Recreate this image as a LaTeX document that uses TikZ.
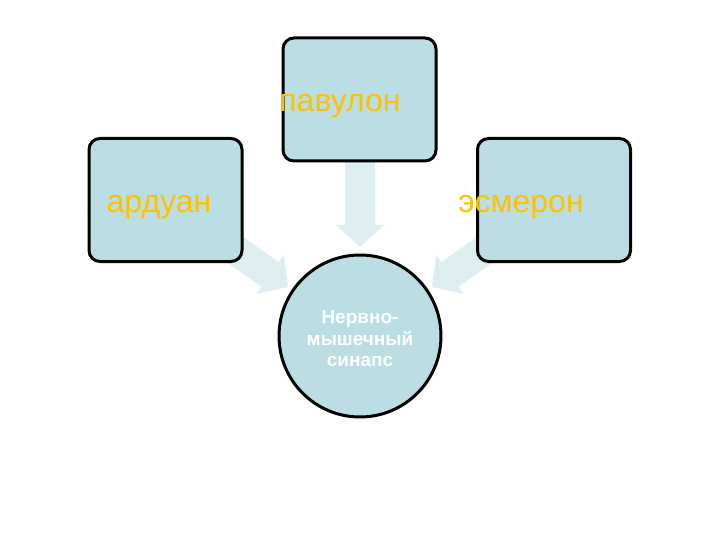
\documentclass[tikz,border=0pt]{standalone}
\usepackage{fontspec}
\setmainfont{Liberation Sans}
\usetikzlibrary{calc}
\definecolor{boxfill}{HTML}{BADEE3}
\definecolor{arrowfill}{HTML}{DCEEF0}
\definecolor{gold}{HTML}{FFC000}
\tikzset{
  box/.style={draw=black, line width=3pt, fill=boxfill, rounded corners=11pt, minimum width=153pt, minimum height=123pt, inner sep=0pt},
  hub/.style={draw=black, line width=3pt, fill=boxfill, circle, minimum size=162pt, inner sep=0pt},
  boxtext/.style={text=gold, font=\fontsize{32}{36}\selectfont, anchor=base, inner sep=0pt},
  hubtext/.style={text=white, font=\bfseries\fontsize{19}{21.5}\selectfont, align=center, inner sep=0pt},
  blockarrow/.style={fill=arrowfill, draw=none}
}
\newcommand{\blockarr}[2]{%
  \coordinate (hb) at ($(#2)!22pt!(#1)$);
  \path[blockarrow] ($(#1)!15pt!90:(#2)$) -- ($(hb)!15pt!-90:(#1)$) -- ($(hb)!24pt!-90:(#1)$) -- (#2)
    -- ($(hb)!24pt!90:(#1)$) -- ($(hb)!15pt!90:(#1)$) -- ($(#1)!15pt!-90:(#2)$) -- cycle;
}
\begin{document}
\begin{tikzpicture}[x=1pt,y=-1pt]
\useasboundingbox (0,0) rectangle (720,540);
\fill[white] (0,0) rectangle (720,540);
% arrow ends
\coordinate (ta) at (360,150);
\coordinate (tb) at (360,247);
\coordinate (la) at (200,225);
\coordinate (lb) at (288,287);
\coordinate (ra) at (520,225);
\coordinate (rb) at (432,287);
\blockarr{ta}{tb}
\blockarr{la}{lb}
\blockarr{ra}{rb}
% boxes
\node[box] (top) at (359.5,99.5) {};
\node[box] (left) at (165.5,200) {};
\node[box] (right) at (554,200) {};
\node[hub] (hub) at (360,336) {};
% labels
\node[boxtext] (ttop) at (340,112) {павулон};
\node[boxtext] (tleft) at (159,213) {ардуан};
\node[boxtext] (tright) at (521,213) {эсмерон};
\node[hubtext] (thub) at (360,339) {Нервно-\\мышечный\\синапс};
\end{tikzpicture}
\end{document}
